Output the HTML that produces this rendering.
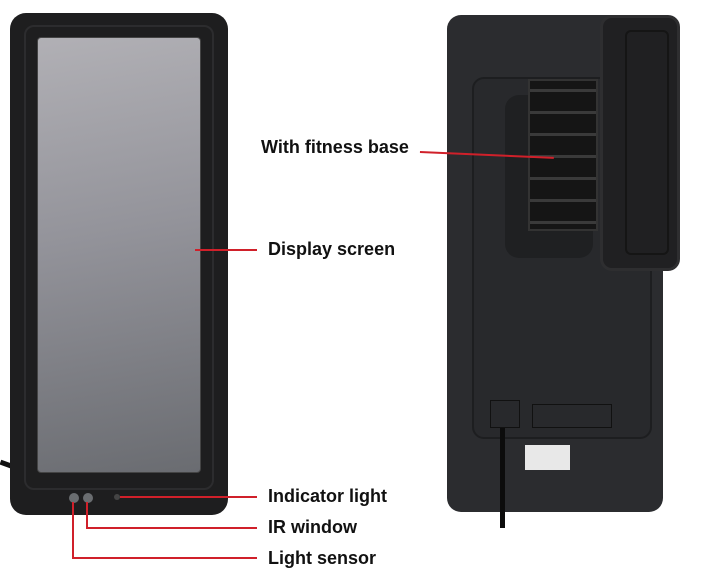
<!DOCTYPE html>
<html><head><style>
body{margin:0;width:705px;height:574px;background:#fff;position:relative;overflow:hidden;font-family:"Liberation Sans",sans-serif}
div{position:absolute;box-sizing:border-box}
.t{font-weight:bold;font-size:18px;color:#111;white-space:nowrap}
.r{background:#d0202a}
</style></head><body>
<div style="left:0;top:462px;width:14px;height:5px;background:#111;transform:rotate(20deg)"></div>
<div style="left:10px;top:13px;width:218px;height:502px;background:#1e1e1f;border-radius:16px"></div>
<div style="left:24px;top:25px;width:190px;height:465px;border:2px solid #2c2c2e;border-radius:10px"></div>
<div style="left:37px;top:37px;width:164px;height:436px;background:linear-gradient(170deg,#b1b0b5 0%,#93939a 45%,#6a6c71 100%);border:1px solid #444;border-radius:4px"></div>
<div style="left:69px;top:493px;width:10px;height:10px;border-radius:50%;background:#6a6d70"></div>
<div style="left:83px;top:493px;width:10px;height:10px;border-radius:50%;background:#6a6d70"></div>
<div style="left:114px;top:494px;width:6px;height:6px;border-radius:50%;background:#444"></div>
<div class="r" style="left:195px;top:249px;width:62px;height:2px"></div>
<div class="r" style="left:120px;top:496px;width:137px;height:2px"></div>
<div class="r" style="left:86px;top:502px;width:2px;height:27px"></div>
<div class="r" style="left:86px;top:527px;width:171px;height:2px"></div>
<div class="r" style="left:72px;top:502px;width:2px;height:57px"></div>
<div class="r" style="left:72px;top:557px;width:185px;height:2px"></div>
<div class="t" style="left:268px;top:239px">Display screen</div>
<div class="t" style="left:268px;top:486px">Indicator light</div>
<div class="t" style="left:268px;top:517px">IR window</div>
<div class="t" style="left:268px;top:548px">Light sensor</div>
<div class="t" style="left:261px;top:137px">With fitness base</div>
<div style="left:447px;top:15px;width:216px;height:497px;background:#2b2c2f;border-radius:14px"></div>
<div style="left:472px;top:77px;width:180px;height:362px;border:2px solid #1d1e20;border-radius:12px;background:#28292c"></div>
<div style="left:505px;top:95px;width:88px;height:163px;background:#1f2022;border-radius:14px"></div>
<div style="left:528px;top:79px;width:70px;height:152px;background:repeating-linear-gradient(180deg,#151515 0 8px,#3a3a3a 8px 11px,#151515 11px 22px);border:2px solid #333"></div>
<div style="left:600px;top:15px;width:80px;height:256px;background:#202022;border-radius:12px;border:3px solid #2e2e30"></div>
<div style="left:625px;top:30px;width:44px;height:225px;border:2px solid #151515;border-radius:6px"></div>
<div style="left:490px;top:400px;width:30px;height:28px;border:1px solid #111"></div>
<div style="left:532px;top:404px;width:80px;height:24px;border:1px solid #111"></div>
<div style="left:500px;top:428px;width:5px;height:100px;background:#0c0c0c"></div>
<div style="left:525px;top:445px;width:45px;height:25px;background:#e8e8e8"></div>
<div class="r" style="left:420px;top:151px;width:134px;height:2px;transform:rotate(2.5deg);transform-origin:0 0"></div>
</body></html>
